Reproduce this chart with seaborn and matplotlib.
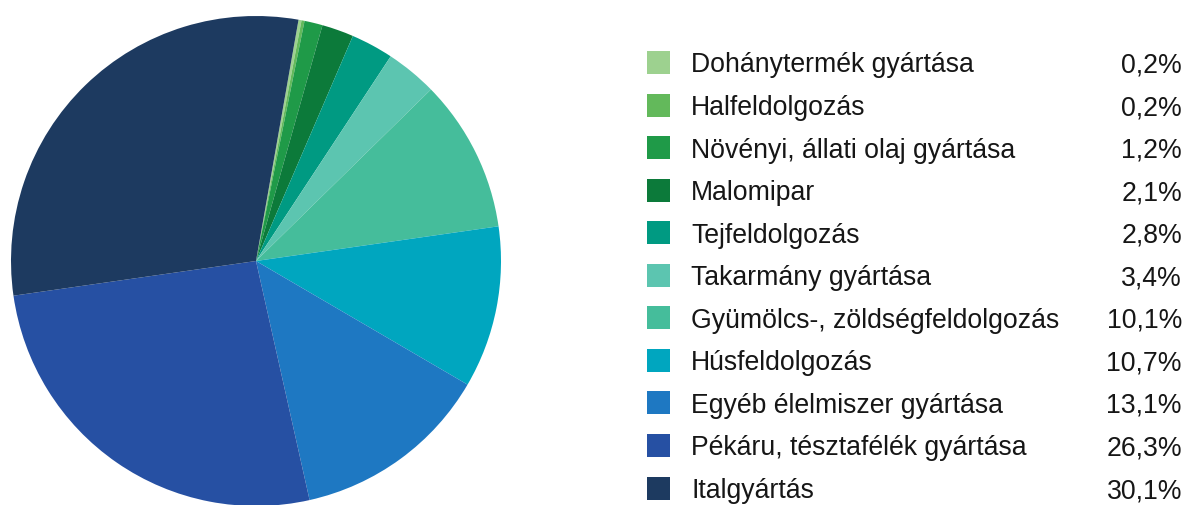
import matplotlib
matplotlib.use("Agg")
import matplotlib.pyplot as plt
from matplotlib.patches import Rectangle
import seaborn as sns

sns.set_style("white")
plt.rcParams['font.family'] = ['Liberation Sans', 'DejaVu Sans']

# data
categories = ["Dohánytermék gyártása", "Halfeldolgozás", "Növényi, állati olaj gyártása",
              "Malomipar", "Tejfeldolgozás", "Takarmány gyártása",
              "Gyümölcs-, zöldségfeldolgozás", "Húsfeldolgozás", "Egyéb élelmiszer gyártása",
              "Pékáru, tésztafélék gyártása", "Italgyártás"]
shares = [0.2, 0.2, 1.2, 2.1, 2.8, 3.4, 10.1, 10.7, 13.1, 26.3, 30.1]
colors = ["#9dd18f", "#63b95b", "#1f9a48", "#0c7a3a", "#009a82", "#5cc5b0",
          "#45bd9b", "#00a6bf", "#1e78c2", "#2650a3", "#1d3a60"]

W, H = 1191, 505
fig = plt.figure(figsize=(W / 100, H / 100), dpi=100)

# pie axes
cx, cy, r = 256, 261, 245
ax = fig.add_axes([(cx - r) / W, 1 - (cy + r) / H, 2 * r / W, 2 * r / H])
ax.pie(shares, colors=colors, startangle=80, counterclock=False,
       wedgeprops=dict(linewidth=0, antialiased=True))
ax.set_aspect("auto")
ax.set_xlim(-1, 1)
ax.set_ylim(-1, 1)
ax.axis("off")

# legend table
y0, dy = 62.5, 42.55
for i, (name, val, col) in enumerate(zip(categories, shares, colors)):
    y = y0 + i * dy
    fig.patches.append(Rectangle((647 / W, 1 - (y + 11.5) / H), 23 / W, 23 / H,
                                 transform=fig.transFigure, facecolor=col,
                                 edgecolor="none"))
    fig.text(691 / W, 1 - (y + 3) / H, name, fontsize=19.2, color="#161616",
             va="center", ha="left")
    fig.text(1182 / W, 1 - (y + 3) / H, f"{val:.1f}%".replace(".", ","),
             fontsize=19.2, color="#161616", va="center", ha="right")

fig.savefig("out.png", dpi=100)
